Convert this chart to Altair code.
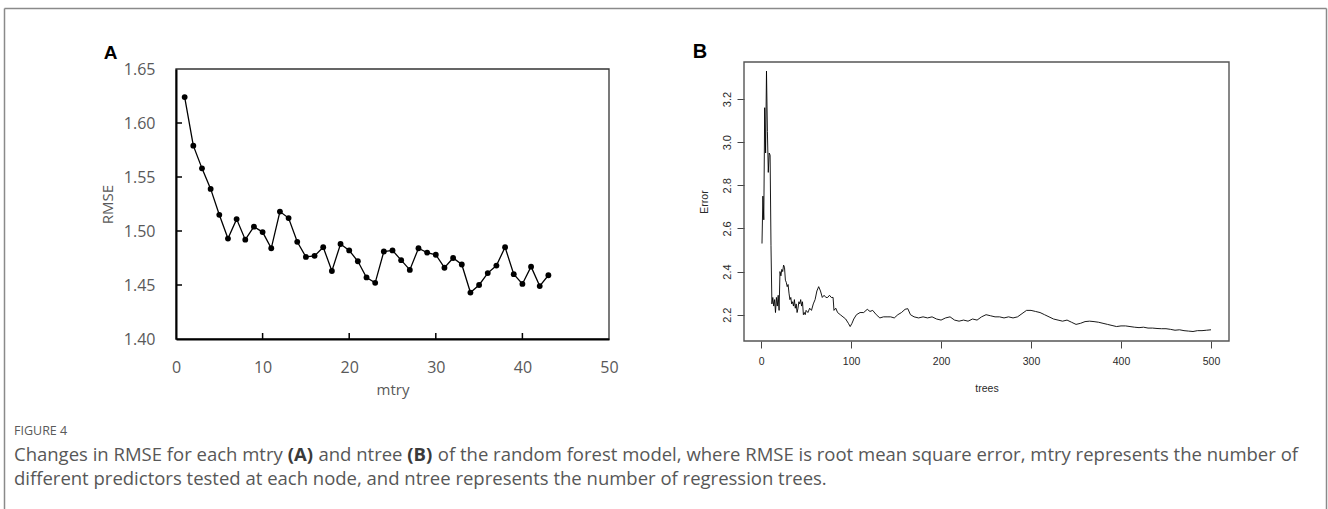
import altair as alt
import pandas as pd

# ---------------- data ----------------
mtry = list(range(1, 44))
rmse = [1.624, 1.579, 1.558, 1.539, 1.515, 1.493, 1.511, 1.492, 1.504, 1.499,
        1.484, 1.518, 1.512, 1.490, 1.476, 1.477, 1.485, 1.463, 1.488, 1.482,
        1.472, 1.457, 1.452, 1.481, 1.482, 1.473, 1.464, 1.484, 1.480, 1.478,
        1.466, 1.475, 1.469, 1.443, 1.450, 1.461, 1.468, 1.485, 1.460, 1.451,
        1.467, 1.449, 1.459]

trees = [1, 2, 3, 4, 5, 6, 7, 8, 9, 10, 11, 12, 13, 14, 15, 16, 17, 18, 19, 20,
         21, 22, 23, 24, 25, 26, 27, 28, 29, 30, 31, 32, 33, 34, 35, 36, 37, 38, 39, 40,
         41, 42, 43, 44, 45, 46, 47, 48, 49, 50, 52, 54, 56, 58, 60, 62, 64, 66, 68, 70,
         72, 74, 76, 78, 80, 81, 83, 85, 88, 91, 94, 97, 99, 101, 103, 106, 110, 114, 118, 121,
         124, 128, 132, 136, 140, 144, 148, 152, 156, 160, 163, 166, 170, 175, 180, 185, 190, 195, 200, 205,
         210, 215, 220, 225, 230, 235, 240, 245, 250, 255, 260, 265, 270, 275, 280, 285, 290, 295, 300, 305,
         310, 315, 320, 325, 330, 335, 340, 345, 350, 355, 360, 365, 370, 375, 380, 385, 390, 395, 400, 405,
         410, 415, 420, 425, 430, 435, 440, 445, 450, 455, 460, 465, 470, 475, 480, 485, 490, 495, 500]
error = [2.53, 2.75, 2.64, 3.16, 2.95, 3.33, 3.05, 2.86, 2.95, 2.94, 2.52, 2.25, 2.28, 2.24, 2.27, 2.21, 2.28, 2.24, 2.29, 2.22,
         2.40, 2.38, 2.41, 2.40, 2.43, 2.42, 2.36, 2.35, 2.33, 2.34, 2.30, 2.27, 2.28, 2.25, 2.26, 2.24, 2.27, 2.23, 2.25, 2.21,
         2.23, 2.26, 2.25, 2.27, 2.24, 2.26, 2.20, 2.21, 2.20, 2.22, 2.21, 2.23, 2.22, 2.25, 2.27, 2.31, 2.33, 2.31, 2.28, 2.29,
         2.28, 2.28, 2.29, 2.28, 2.28, 2.22, 2.23, 2.21, 2.20, 2.19, 2.18, 2.16, 2.145, 2.16, 2.18, 2.20, 2.21, 2.21, 2.225, 2.215,
         2.22, 2.20, 2.185, 2.19, 2.19, 2.19, 2.185, 2.20, 2.21, 2.225, 2.228, 2.20, 2.19, 2.185, 2.19, 2.185, 2.19, 2.18, 2.175, 2.185,
         2.19, 2.175, 2.17, 2.175, 2.17, 2.18, 2.175, 2.19, 2.20, 2.195, 2.19, 2.19, 2.185, 2.19, 2.185, 2.19, 2.205, 2.22, 2.22, 2.215,
         2.21, 2.20, 2.19, 2.18, 2.175, 2.17, 2.175, 2.165, 2.155, 2.16, 2.168, 2.17, 2.168, 2.165, 2.16, 2.155, 2.15, 2.145, 2.148, 2.148,
         2.145, 2.142, 2.14, 2.142, 2.138, 2.138, 2.136, 2.135, 2.135, 2.132, 2.128, 2.13, 2.126, 2.124, 2.122, 2.126, 2.126, 2.128, 2.13]

ticks_A_x = [0, 10, 20, 30, 40, 50]
ticks_A_y = [1.40, 1.45, 1.50, 1.55, 1.60, 1.65]
ticks_B_x = [0, 100, 200, 300, 400, 500]
ticks_B_y = [2.2, 2.4, 2.6, 2.8, 3.0, 3.2]

fig_label = "FIGURE 4"
cap_parts = [("Changes in RMSE for each mtry ", False), ("(A)", True), (" and ntree ", False),
             ("(B)", True),
             (" of the random forest model, where RMSE is root mean square error, mtry represents the number of", False)]
cap_line2 = "different predictors tested at each node, and ntree represents the number of regression trees."

# ---------------- frames ----------------
dfA = pd.DataFrame({"mtry": mtry, "rmse": rmse})
dfB = pd.DataFrame({"trees": trees, "error": error})
one = pd.DataFrame({"k": [0]})

WA, HA = 433, 277      # panel A view (frame top at y=7 within view)
WB, HB = 485, 279      # panel B view
OX, OY = 176, 62       # absolute origin of panel A view
BX = 744               # absolute x of panel B view

CAP_FONT = "Open Sans"
CAP_SIZE = 18.5
OS = {' ': 532, ',': 500, '.': 545, '(': 596, ')': 596,
      'A': 1296, 'B': 1327, 'C': 1292, 'E': 1124, 'M': 1849, 'R': 1292, 'S': 1104,
      'a': 1139, 'b': 1255, 'c': 975, 'd': 1255, 'e': 1149, 'f': 694, 'g': 1122, 'h': 1257,
      'i': 518, 'j': 518, 'k': 1075, 'l': 518, 'm': 1905, 'n': 1257, 'o': 1237, 'p': 1255,
      'q': 1255, 'r': 836, 's': 977, 't': 723, 'u': 1257, 'v': 1026, 'w': 1593, 'x': 1073,
      'y': 1028, 'z': 979}
OSB = {' ': 532, '(': 694, ')': 694, 'A': 1479, 'B': 1458}


def tw(s, bold=False):
    t = OSB if bold else OS
    return sum(t.get(c, 1150) for c in s) / 2048 * CAP_SIZE


def txt(s, x, y, size, color, weight="normal", font=CAP_FONT, align="left"):
    return alt.Chart(one).mark_text(align=align, baseline="alphabetic", font=font, fontSize=size,
                                    color=color, fontWeight=weight).encode(
        x=alt.value(x), y=alt.value(y), text=alt.value(s))


# background/canvas-extent rect and border (relative to panel A origin)
bg = alt.Chart(one).mark_rect(fillOpacity=0, fill="white").encode(
    x=alt.value(-OX), x2=alt.value(1328 - OX), y=alt.value(-OY), y2=alt.value(509 - OY))
bcol = "#8a8a8a"
b_left = alt.Chart(one).mark_rule(color=bcol, strokeWidth=1.5).encode(
    x=alt.value(4.5 - OX), y=alt.value(8.5 - OY), y2=alt.value(509 - OY))
b_right = alt.Chart(one).mark_rule(color=bcol, strokeWidth=1.5).encode(
    x=alt.value(1326.5 - OX), y=alt.value(8.5 - OY), y2=alt.value(509 - OY))
b_top = alt.Chart(one).mark_rule(color=bcol, strokeWidth=1.5).encode(
    x=alt.value(4.5 - OX), x2=alt.value(1326.5 - OX), y=alt.value(8.5 - OY))

cap_col = "#575757"
L1, L2 = 461, 485
cap_layers = [txt(fig_label, 14 - OX, 435 - OY, 12.5, "#5a5a5a")]
cx = 14.0
for s, bold in cap_parts:
    lead = len(s) - len(s.lstrip(' '))
    trail = len(s) - len(s.rstrip(' '))
    core = s.strip(' ')
    cx += lead * tw(' ')
    cap_layers.append(txt(core, cx - OX, L1 - OY, CAP_SIZE, "#3a3a3a" if bold else cap_col,
                          weight="bold" if bold else "normal"))
    cx += tw(core, bold) + trail * tw(' ')
cap_layers.append(txt(cap_line2, 14 - OX, L2 - OY, CAP_SIZE, cap_col))

letterA = txt("A", 110.5 - OX, 59 - OY, 19, "black", weight="bold", font="Liberation Sans", align="center")
letterB = txt("B", 700 - BX, 58 - OY, 20, "black", weight="bold", font="Liberation Sans", align="center")

# ---------------- panel A ----------------
gA = "#595959"
xA = alt.X("mtry:Q", scale=alt.Scale(domain=[0, 50], nice=False),
           axis=alt.Axis(values=ticks_A_x, ticks=False, tickSize=0, grid=False, labelFlush=False,
                         domainColor="black", domainWidth=2, labelFont="Open Sans", labelFontSize=16,
                         labelColor=gA, labelPadding=20, title="mtry", titleFont="Open Sans",
                         titleFontSize=15, titleColor=gA, titleFontWeight="normal", titlePadding=7,
                         zindex=1))
yA = alt.Y("rmse:Q", scale=alt.Scale(domain=[1.40, 1.65], range=[HA, 7], nice=False, zero=False),
           axis=alt.Axis(values=ticks_A_y, format=".2f", ticks=False, tickSize=0, grid=False,
                         labelFlush=False, domainColor="black", domainWidth=2, labelFont="Open Sans",
                         labelFontSize=16, labelColor=gA, labelPadding=21, title="RMSE",
                         titleFont="Open Sans", titleFontSize=15, titleColor=gA,
                         titleFontWeight="normal", titlePadding=8, zindex=1))

lineA = alt.Chart(dfA).mark_line(color="black", strokeWidth=1.3).encode(x=xA, y=yA)
ptsA = alt.Chart(dfA).mark_circle(color="black", size=34, opacity=1).encode(x="mtry:Q", y="rmse:Q")
frameA = alt.Chart(one).mark_rect(fillOpacity=0, stroke="#333333", strokeWidth=1.3).encode(
    x=alt.datum(0), x2=alt.datum(50), y=alt.datum(1.40), y2=alt.datum(1.65))
tAx = alt.Chart(pd.DataFrame({"mtry": ticks_A_x[1:-1]})).mark_rule(color="black", strokeWidth=1.5).encode(
    x="mtry:Q", y=alt.value(HA), y2=alt.value(HA - 6))
tAy = alt.Chart(pd.DataFrame({"rmse": ticks_A_y[1:-1]})).mark_rule(color="black", strokeWidth=1.5).encode(
    y="rmse:Q", x=alt.value(0), x2=alt.value(6))

panelA = alt.layer(lineA, bg, b_left, b_right, b_top, *cap_layers, letterA, frameA, tAx, tAy, ptsA).properties(
    width=WA, height=HA)

# ---------------- panel B ----------------
gB = "#2a2a2a"
xB = alt.X("trees:Q", scale=alt.Scale(domain=[-19, 520], nice=False),
           axis=alt.Axis(values=ticks_B_x, domain=False, tickSize=7, tickColor="#444444", tickWidth=1,
                         grid=False, labelFlush=False, labelFont="Liberation Sans", labelFontSize=10.5,
                         labelColor=gB, labelPadding=8, title="trees", titleFont="Liberation Sans",
                         titleFontSize=10.5, titleColor=gB, titleFontWeight="normal", titlePadding=17))
yB = alt.Y("error:Q", scale=alt.Scale(domain=[2.078, 3.372], nice=False, zero=False),
           axis=alt.Axis(values=ticks_B_y, format=".1f", domain=False, tickSize=7, tickColor="#444444",
                         tickWidth=1, grid=False, labelFlush=False, labelAngle=270, labelAlign="center",
                         labelBaseline="bottom", labelFont="Liberation Sans", labelFontSize=11,
                         labelColor=gB, labelPadding=5, title="Error", titleFont="Liberation Sans",
                         titleFontSize=10.5, titleColor=gB, titleFontWeight="normal", titlePadding=12))

lineB = alt.Chart(dfB).mark_line(color="black", strokeWidth=0.9).encode(x=xB, y=yB)
frameB = alt.Chart(one).mark_rect(fillOpacity=0, stroke="#555555", strokeWidth=1.4).encode(
    x=alt.value(0), x2=alt.value("width"), y=alt.value(0), y2=alt.value("height"))

panelB = alt.layer(lineB, frameB, letterB).properties(width=WB, height=HB)

chart = alt.hconcat(panelA, panelB, spacing=BX - OX - WA, bounds="flush").properties(
    padding=0).configure_view(strokeWidth=0)

chart.save("out.html", embed_options={"renderer": "svg", "actions": False})
